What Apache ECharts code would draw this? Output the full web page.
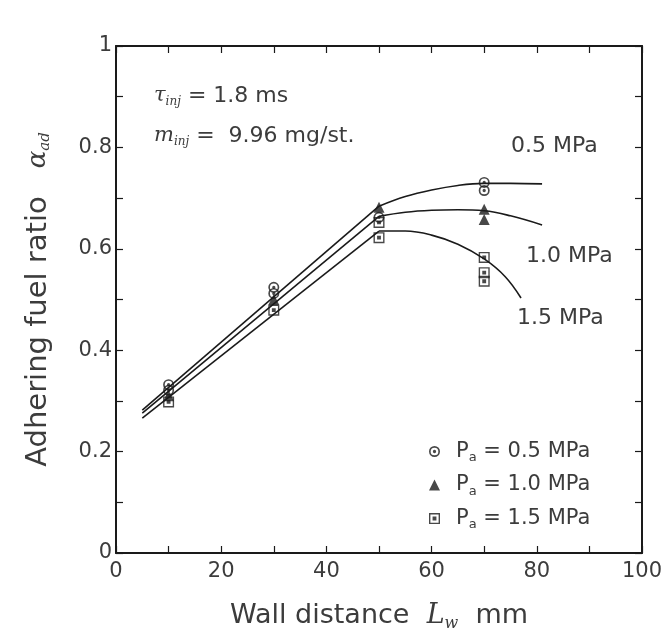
<!DOCTYPE html>
<html>
<head>
<meta charset="utf-8">
<title>Adhering fuel ratio</title>
<script src="https://cdn.jsdelivr.net/npm/echarts@6/dist/echarts.min.js"></script>
<style>
  html, body { margin: 0; padding: 0; background: #fff; }
  #chart { width: 669px; height: 640px; }
</style>
</head>
<body>
<div id="chart"></div>
<script>
// measured points (wall distance mm, adhering fuel ratio)
const pts05 = [[10, 0.332], [10, 0.321], [30, 0.524], [30, 0.512], [50, 0.662], [70, 0.731], [70, 0.715]];
const pts10 = [[10, 0.31], [30, 0.50], [50, 0.682], [70, 0.678], [70, 0.658]];
const pts15 = [[10, 0.298], [30, 0.479], [50, 0.652], [50, 0.622], [70, 0.583], [70, 0.553], [70, 0.536]];

// fitted curves: straight rise, then a bend after 50 mm
const fit05Straight = [[5, 0.282], [50, 0.684]];
const fit05Curve = [[50, 0.684], [55, 0.703], [60, 0.716], [65, 0.725], [70, 0.729], [75, 0.729], [81, 0.728]];
const fit10Straight = [[5, 0.276], [50, 0.664]];
const fit10Curve = [[50, 0.664], [55, 0.672], [60, 0.676], [65, 0.677], [70, 0.675], [75, 0.665], [81, 0.647]];
const fit15Straight = [[5, 0.266], [50, 0.635]];
const fit15Curve = [[50, 0.635], [55, 0.635], [60, 0.627], [65, 0.609], [70, 0.580], [74, 0.545], [77, 0.503]];

const seriesNames = ["0.5 MPa", "1.0 MPa", "1.5 MPa"];

// marker shapes (ring + centre dot, box + centre dot)
const dotCircle = "path://M0,-10A10,10,0,1,1,0,10A10,10,0,1,1,0,-10Z M0,-7A7,7,0,1,0,0,7A7,7,0,1,0,0,-7Z M0,-3A3,3,0,1,1,0,3A3,3,0,1,1,0,-3Z";
const dotSquare = "path://M-10,-10H10V10H-10Z M-7.5,-7.5V7.5H7.5V-7.5Z M-3.5,-3.5H3.5V3.5H-3.5Z";

const ink = "#1a1a1a";
const grey = "#3c3c3c";
const sans = "DejaVu Sans, sans-serif";
const serif = "DejaVu Serif, serif";

const chart = echarts.init(document.getElementById("chart"));

function fitLine(data, smooth) {
  return {
    type: "line",
    data: data,
    smooth: smooth ? 0.4 : false,
    symbol: "none",
    silent: true,
    lineStyle: { color: ink, width: 1.6 },
    z: 2
  };
}

function pointSeries(name, data, symbol, size) {
  return {
    type: "scatter",
    name: name,
    data: data,
    symbol: symbol,
    symbolSize: size,
    itemStyle: { color: ink, borderWidth: 0 },
    z: 3
  };
}

const frameAxis = {
  axisLine: { show: true, onZero: false, lineStyle: { color: ink, width: 2 } },
  axisTick: { show: true, inside: true, length: 7, lineStyle: { color: ink, width: 1.2 } },
  minorTick: { show: true, splitNumber: 2, length: 7, lineStyle: { color: ink, width: 1.2 } },
  splitLine: { show: false }
};

chart.setOption({
  backgroundColor: "#fff",
  animation: false,
  grid: { left: 116, right: 27, top: 46, bottom: 87 },
  xAxis: [
    Object.assign({
      type: "value", min: 0, max: 100, interval: 20, position: "bottom",
      name: "{t|Wall distance  }{i|L}{s|w}{t|  mm}",
      nameLocation: "middle", nameGap: 47,
      nameTextStyle: {
        rich: {
          t: { fontFamily: sans, fontSize: 27, color: grey, lineHeight: 30 },
          i: { fontFamily: serif, fontStyle: "italic", fontSize: 27, color: grey, lineHeight: 30 },
          s: { fontFamily: serif, fontStyle: "italic", fontSize: 16, color: grey, padding: [16, 0, 0, 0] }
        }
      },
      axisLabel: { fontFamily: sans, fontSize: 21, color: grey, margin: 8 }
    }, frameAxis),
    Object.assign({
      type: "value", min: 0, max: 100, interval: 20, position: "top",
      axisLabel: { show: false }
    }, frameAxis)
  ],
  yAxis: [
    Object.assign({
      type: "value", min: 0, max: 1, interval: 0.2, position: "left",
      name: "{t|Adhering fuel ratio}{i|α}{s|ad}",
      nameLocation: "middle", nameGap: 62, nameRotate: 90,
      nameTextStyle: {
        rich: {
          t: { fontFamily: sans, fontSize: 29, color: grey, lineHeight: 32 },
          i: { fontFamily: serif, fontStyle: "italic", fontSize: 26, color: grey, padding: [0, 0, 0, 28], lineHeight: 32 },
          s: { fontFamily: serif, fontStyle: "italic", fontSize: 15, color: grey, padding: [14, 0, 0, 0] }
        }
      },
      axisLabel: {
        fontFamily: sans, fontSize: 21, color: grey, margin: 4,
        formatter: function (v) { return (v === 0 || v === 1) ? String(v) : v.toFixed(1); }
      }
    }, frameAxis),
    Object.assign({
      type: "value", min: 0, max: 1, interval: 0.2, position: "right",
      axisLabel: { show: false }
    }, frameAxis)
  ],
  legend: {
    orient: "vertical",
    left: 424,
    top: 436,
    itemWidth: 11,
    itemHeight: 11,
    itemGap: 10,
    data: seriesNames,
    formatter: function (name) {
      return "{f|P}{s|a}{p| = " + name + "}";
    },
    textStyle: {
      rich: {
        f: { fontFamily: sans, fontSize: 21, color: grey, lineHeight: 24, padding: [0, 0, 0, 11] },
        p: { fontFamily: sans, fontSize: 21, color: grey, lineHeight: 24 },
        s: { fontFamily: sans, fontSize: 13, color: grey, padding: [13, 0, 0, 0] }
      }
    }
  },
  graphic: [
    {
      type: "text", left: 154, top: 85,
      style: {
        text: "{i|τ}{s|inj}{t| = 1.8 ms}",
        rich: {
          i: { fontFamily: serif, fontStyle: "italic", fontSize: 21, fill: grey },
          s: { fontFamily: serif, fontStyle: "italic", fontSize: 12, fill: grey, padding: [11, 0, 0, 0] },
          t: { fontFamily: sans, fontSize: 22, fill: grey }
        }
      }
    },
    {
      type: "text", left: 154, top: 125,
      style: {
        text: "{i|m}{s|inj}{t| =  9.96 mg/st.}",
        rich: {
          i: { fontFamily: serif, fontStyle: "italic", fontSize: 21, fill: grey },
          s: { fontFamily: serif, fontStyle: "italic", fontSize: 12, fill: grey, padding: [11, 0, 0, 0] },
          t: { fontFamily: sans, fontSize: 22, fill: grey }
        }
      }
    },
    { type: "text", left: 511, top: 135, style: { text: "0.5 MPa", font: "22px " + sans, fill: grey } },
    { type: "text", left: 526, top: 245, style: { text: "1.0 MPa", font: "22px " + sans, fill: grey } },
    { type: "text", left: 517, top: 307, style: { text: "1.5 MPa", font: "22px " + sans, fill: grey } }
  ],
  series: [
    fitLine(fit05Straight, false),
    fitLine(fit05Curve, true),
    fitLine(fit10Straight, false),
    fitLine(fit10Curve, true),
    fitLine(fit15Straight, false),
    fitLine(fit15Curve, true),
    pointSeries(seriesNames[0], pts05, dotCircle, 11),
    pointSeries(seriesNames[1], pts10, "triangle", 11),
    pointSeries(seriesNames[2], pts15, dotSquare, 11)
  ]
});
</script>
</body>
</html>
